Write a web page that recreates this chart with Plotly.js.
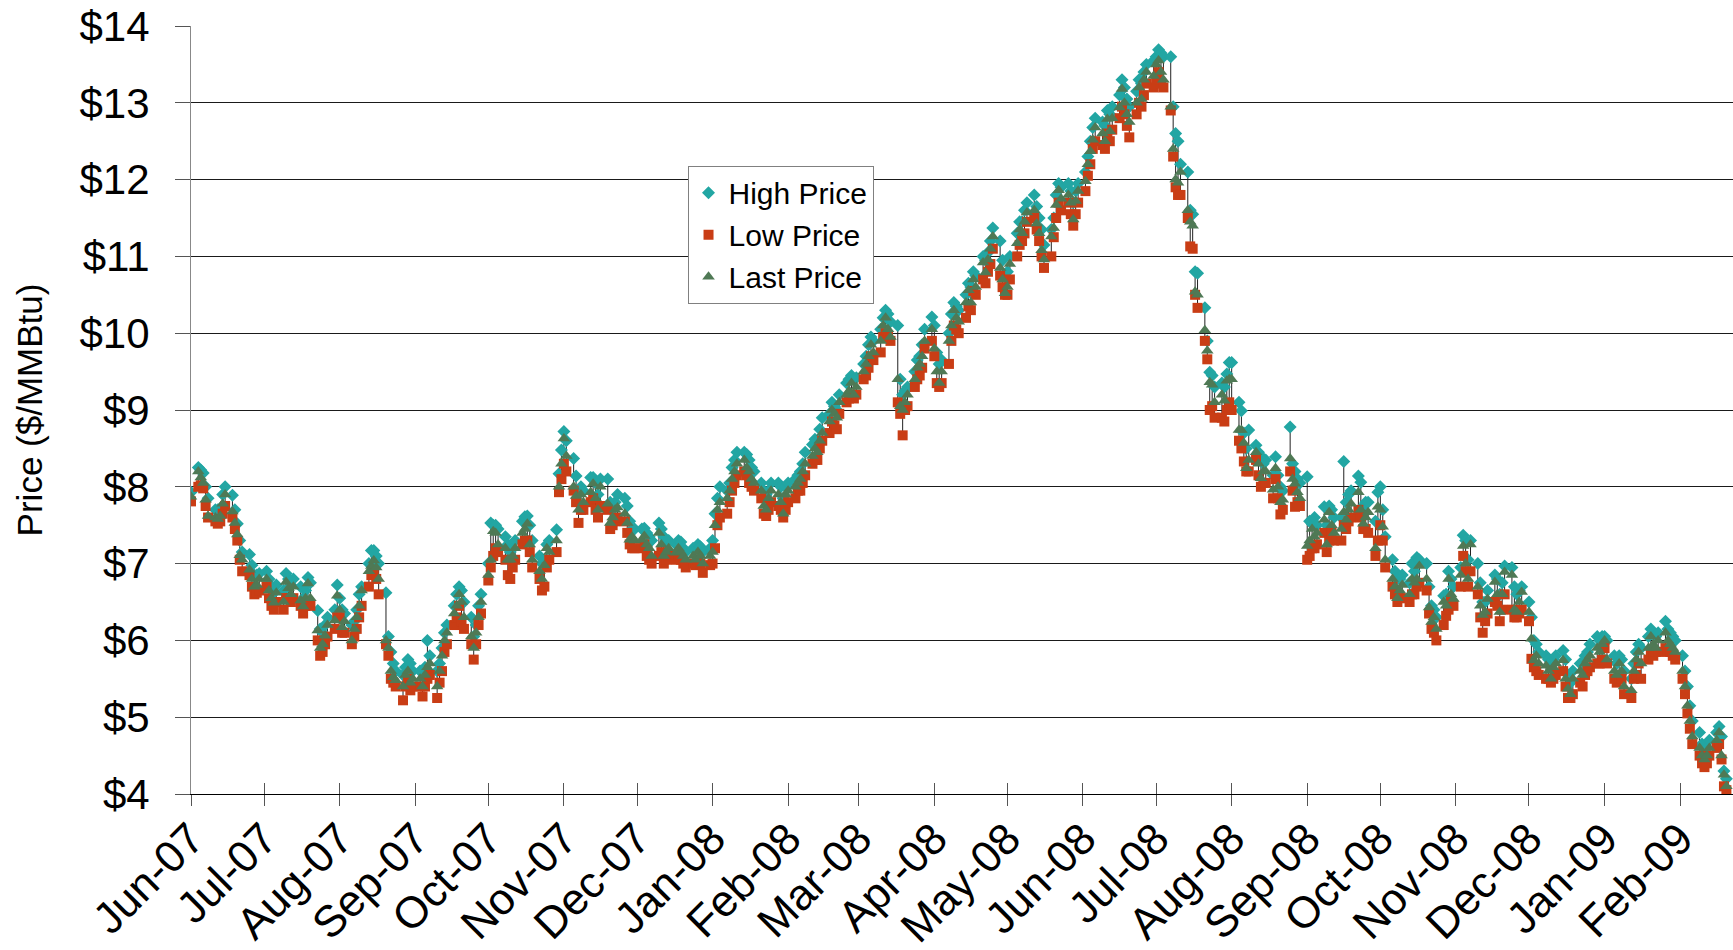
<!DOCTYPE html>
<html>
<head>
<meta charset="utf-8">
<script src="https://cdn.plot.ly/plotly-3.0.1.min.js"></script>
<style>
html,body{margin:0;padding:0;background:#fff;}
#chart{width:1733px;height:950px;}
</style>
</head>
<body>
<div id="chart"></div>
<script>
// Months covered (trading weekdays of each month get the values in order)
const months = ['2007-06','2007-07','2007-08','2007-09','2007-10','2007-11','2007-12',
  '2008-01','2008-02','2008-03','2008-04','2008-05','2008-06','2008-07','2008-08',
  '2008-09','2008-10','2008-11','2008-12','2009-01','2009-02'];

const lastPrice = [
 [7.87,8.20,8.12,8.05,7.83,7.62,7.60,7.58,7.62,7.78,7.90,7.68,7.53,7.38,7.11,7.05,6.92,6.80,6.70,6.72,6.80],
 [6.80,6.65,6.55,6.49,6.62,6.50,6.76,6.68,6.60,6.70,6.52,6.44,6.55,6.74,6.55,6.13,5.90,5.95,6.06,6.20,6.26,6.58],
 [6.40,6.17,6.25,6.00,6.15,6.30,6.45,6.65,6.90,6.97,7.04,6.95,6.80,6.00,5.90,5.60,5.52,5.48,5.40,5.55,5.60,5.45,5.50],
 [5.50,5.40,5.55,5.65,5.70,5.40,5.60,5.80,6.00,6.10,6.35,6.45,6.60,6.50,6.30,6.05,5.90,6.10,6.30,6.50],
 [6.85,7.05,7.42,7.40,7.25,7.20,7.05,7.05,7.10,7.20,7.40,7.45,7.52,7.25,7.05,6.90,6.80,6.98,7.20,7.15,7.30,8.00,8.30],
 [8.63,8.40,8.00,7.88,7.70,7.90,7.80,7.93,8.04,7.85,7.70,8.00,7.78,7.53,7.60,7.70,7.73,7.65,7.53,7.31,7.35,7.30],
 [7.31,7.36,7.25,7.20,7.10,7.40,7.25,7.10,7.15,7.20,7.14,7.20,7.15,7.10,7.05,7.10,7.05,7.15,7.10,7.00,7.10],
 [7.15,7.50,7.70,7.80,7.85,7.95,8.10,8.20,8.30,8.35,8.25,8.20,8.10,8.05,7.95,7.75,7.70,7.85,7.95,7.90,7.80,7.65,7.90],
 [7.95,8.00,8.05,8.10,8.20,8.30,8.40,8.50,8.45,8.60,8.70,8.85,9.00,8.95,8.90,9.10,9.20,9.25,9.35,9.20,9.30],
 [9.50,9.60,9.70,9.85,9.75,9.90,10.10,10.20,10.05,9.95,9.40,9.05,9.00,9.10,9.20,9.40,9.55,9.60,9.70,9.90,10.05],
 [9.80,9.50,9.35,9.50,9.90,10.10,10.30,10.20,10.15,10.40,10.56,10.40,10.70,10.60,10.92,10.79,10.96,11.10,11.26,10.85,10.70,10.52],
 [10.60,10.90,11.17,11.35,11.30,11.45,11.57,11.60,11.43,11.30,11.08,10.96,11.26,11.37,11.67,11.86,11.75,11.80,11.70,11.48,11.72,11.85],
 [11.98,12.20,12.37,12.52,12.68,12.60,12.50,12.79,12.63,12.80,12.94,13.18,13.00,12.85,12.75,13.00,13.20,13.05,13.30,13.40,13.35],
 [13.50,13.55,13.40,13.30,12.95,12.40,12.00,11.96,12.10,11.60,11.45,11.40,10.54,10.50,10.04,9.77,9.36,9.33,9.10,9.20,9.12,9.38,9.40],
 [9.40,8.74,8.74,8.57,8.24,8.35,8.45,8.30,8.11,8.20,8.20,7.96,8.24,8.00,7.80,7.83,8.37,8.10,8.04,7.93,7.85],
 [7.23,7.30,7.45,7.35,7.40,7.57,7.25,7.67,7.50,7.40,7.45,7.67,7.57,7.70,7.78,7.93,7.70,7.52,7.60,7.67,7.20,7.74],
 [7.70,7.48,7.05,6.80,6.70,6.55,6.65,6.72,6.60,6.80,6.75,6.80,6.97,6.80,6.43,6.24,6.30,6.15,6.50,6.45,6.80,6.60,6.54],
 [6.85,7.23,7.00,6.80,7.25,6.70,6.45,6.33,6.37,6.54,6.76,6.60,6.37,6.60,6.89,6.85,6.40,6.37,6.50,6.63],
 [6.37,6.02,5.74,5.80,5.70,5.67,5.60,5.50,5.65,5.70,5.74,5.50,5.37,5.30,5.50,5.60,5.55,5.70,5.75,5.80,5.90,5.85,5.95],
 [6.00,5.75,5.60,5.55,5.70,5.60,5.40,5.35,5.60,5.75,5.85,5.70,5.90,6.05,5.95,5.90,6.00,6.10,6.00,5.95,5.90,5.85],
 [5.60,5.40,5.15,4.95,4.75,4.60,4.50,4.45,4.50,4.60,4.70,4.80,4.50,4.25,4.10]
];

const highPrice = [
 [7.93,8.25,8.22,8.18,8.00,7.85,7.70,7.70,7.72,7.90,8.00,7.89,7.70,7.52,7.30,7.15,7.12,6.98,6.85,6.85,6.87],
 [6.90,6.80,6.70,6.62,6.72,6.65,6.87,6.80,6.72,6.80,6.70,6.55,6.65,6.82,6.75,6.39,6.15,6.10,6.20,6.30,6.40,6.72],
 [6.55,6.40,6.35,6.20,6.25,6.40,6.60,6.70,7.00,7.17,7.17,7.10,7.00,6.62,6.05,5.85,5.70,5.60,5.55,5.65,5.75,5.70,5.60],
 [5.60,5.60,5.65,6.00,5.80,5.60,5.70,5.90,6.10,6.20,6.45,6.60,6.70,6.65,6.50,6.30,6.05,6.20,6.45,6.60],
 [7.00,7.53,7.50,7.50,7.45,7.35,7.25,7.15,7.20,7.30,7.55,7.61,7.62,7.50,7.30,7.10,7.00,7.05,7.25,7.30,7.44,8.17,8.48],
 [8.72,8.60,8.37,8.14,7.95,8.00,7.95,8.12,8.12,8.05,7.90,8.10,8.10,7.80,7.70,7.80,7.90,7.85,7.75,7.55,7.45,7.45],
 [7.45,7.46,7.40,7.35,7.30,7.53,7.45,7.35,7.30,7.30,7.25,7.30,7.28,7.20,7.15,7.20,7.18,7.25,7.22,7.15,7.20],
 [7.30,7.65,7.85,8.00,7.95,8.05,8.25,8.35,8.45,8.45,8.42,8.35,8.25,8.20,8.05,7.95,7.90,7.95,8.05,8.05,8.00,7.85,8.00],
 [8.05,8.10,8.15,8.20,8.30,8.45,8.55,8.62,8.60,8.75,8.90,8.95,9.10,9.05,9.00,9.20,9.35,9.40,9.45,9.40,9.42],
 [9.60,9.70,9.85,9.95,9.90,10.05,10.20,10.30,10.25,10.15,10.10,9.40,9.20,9.25,9.30,9.50,9.65,9.70,9.85,10.05,10.21],
 [10.10,9.75,9.60,9.65,10.00,10.25,10.40,10.35,10.30,10.50,10.65,10.60,10.80,10.75,11.00,10.95,11.05,11.20,11.37,11.20,10.95,10.75],
 [10.80,11.00,11.30,11.45,11.45,11.60,11.70,11.80,11.65,11.50,11.35,11.15,11.35,11.50,11.80,11.95,11.90,11.95,11.85,11.70,11.85,11.95],
 [12.10,12.30,12.50,12.68,12.80,12.75,12.70,12.90,12.85,12.95,13.10,13.30,13.20,13.05,12.95,13.15,13.30,13.25,13.40,13.50,13.55],
 [13.60,13.69,13.65,13.60,13.60,12.95,12.60,12.50,12.20,12.10,11.60,11.55,10.80,10.78,10.33,9.90,9.49,9.45,9.30,9.35,9.30,9.47,9.62],
 [9.62,9.10,8.99,8.70,8.50,8.74,8.54,8.45,8.40,8.30,8.35,8.15,8.39,8.15,8.00,7.95,8.78,8.30,8.20,8.10,8.05],
 [8.13,7.55,7.52,7.60,7.50,7.74,7.50,7.75,7.70,7.60,7.60,8.33,7.80,7.90,7.95,8.14,8.06,7.75,7.80,7.80,7.55,7.93],
 [8.00,7.70,7.35,7.05,6.90,6.80,6.80,6.85,6.75,7.00,6.90,7.08,7.05,7.00,6.70,6.45,6.40,6.30,6.58,6.60,6.90,6.80,6.70],
 [6.95,7.37,7.30,7.05,7.30,7.00,6.75,6.50,6.50,6.65,6.85,6.80,6.60,6.75,6.97,6.95,6.70,6.60,6.65,6.70],
 [6.50,6.30,6.00,5.95,5.85,5.80,5.75,5.70,5.75,5.80,5.87,5.75,5.55,5.45,5.60,5.70,5.70,5.80,5.85,5.95,6.05,6.00,6.05],
 [6.05,6.00,5.80,5.70,5.80,5.75,5.60,5.50,5.70,5.85,5.95,5.90,6.05,6.15,6.10,6.05,6.10,6.25,6.15,6.10,6.05,6.00],
 [5.80,5.60,5.40,5.15,4.95,4.80,4.65,4.55,4.60,4.70,4.80,4.88,4.75,4.30,4.20]
];

const lowPrice = [
 [7.81,8.00,8.02,7.98,7.75,7.60,7.55,7.52,7.55,7.65,7.75,7.60,7.45,7.30,7.05,6.90,6.85,6.70,6.60,6.62,6.65],
 [6.70,6.55,6.45,6.40,6.50,6.40,6.55,6.55,6.50,6.55,6.45,6.35,6.45,6.50,6.45,6.00,5.80,5.85,5.95,6.05,6.15,6.30],
 [6.30,6.10,6.10,5.95,6.05,6.15,6.30,6.45,6.70,6.85,6.90,6.80,6.60,5.95,5.80,5.50,5.45,5.40,5.22,5.40,5.50,5.35,5.40],
 [5.40,5.27,5.40,5.50,5.55,5.25,5.45,5.60,5.85,5.95,6.20,6.30,6.45,6.25,6.15,5.95,5.75,5.95,6.20,6.35],
 [6.78,6.95,7.10,7.20,7.15,7.05,6.85,6.80,6.95,7.05,7.25,7.30,7.30,7.15,6.95,6.80,6.65,6.70,6.95,7.05,7.15,7.93,8.10],
 [8.30,8.20,7.95,7.80,7.53,7.70,7.70,7.80,7.85,7.70,7.60,7.75,7.70,7.45,7.50,7.55,7.60,7.55,7.40,7.25,7.20,7.20],
 [7.20,7.25,7.10,7.05,7.00,7.10,7.15,7.00,7.05,7.10,7.05,7.10,7.05,7.00,6.95,7.00,6.98,7.05,7.00,6.88,6.98],
 [7.00,7.20,7.50,7.60,7.65,7.80,7.95,8.05,8.15,8.20,8.15,8.05,8.00,7.95,7.85,7.65,7.62,7.70,7.80,7.75,7.70,7.60,7.70],
 [7.80,7.85,7.95,7.95,8.05,8.15,8.30,8.35,8.35,8.50,8.60,8.70,8.85,8.80,8.75,8.95,9.10,9.15,9.20,9.15,9.20],
 [9.40,9.45,9.55,9.70,9.65,9.75,9.95,10.00,9.95,9.90,9.10,8.95,8.67,9.00,9.05,9.30,9.40,9.45,9.55,9.80,9.90],
 [9.70,9.35,9.30,9.35,9.60,9.90,10.10,10.05,10.00,10.20,10.35,10.30,10.55,10.50,10.70,10.65,10.80,10.90,11.10,10.75,10.60,10.50],
 [10.50,10.70,11.00,11.15,11.20,11.30,11.45,11.50,11.35,11.20,11.00,10.85,11.00,11.25,11.50,11.70,11.60,11.70,11.55,11.40,11.55,11.70],
 [11.85,12.05,12.20,12.40,12.50,12.45,12.40,12.60,12.50,12.65,12.80,12.95,12.85,12.70,12.55,12.85,13.00,12.95,13.10,13.25,13.20],
 [13.30,13.40,13.25,13.20,12.90,12.30,11.90,11.80,11.80,11.50,11.13,11.10,10.50,10.33,9.90,9.66,9.00,9.05,8.90,8.90,8.85,9.00,9.10],
 [9.00,8.60,8.50,8.33,8.20,8.20,8.35,8.15,8.00,8.05,8.05,7.85,8.10,7.85,7.64,7.70,8.20,7.95,7.74,7.80,7.75],
 [7.05,7.10,7.20,7.20,7.25,7.40,7.15,7.30,7.40,7.30,7.30,7.50,7.45,7.55,7.60,7.70,7.60,7.45,7.45,7.40,7.10,7.30],
 [7.50,7.30,6.95,6.70,6.60,6.50,6.55,6.55,6.50,6.60,6.60,6.70,6.75,6.65,6.35,6.15,6.10,6.00,6.20,6.32,6.40,6.50,6.45],
 [6.70,7.10,6.90,6.70,6.90,6.60,6.30,6.10,6.25,6.35,6.50,6.45,6.25,6.40,6.60,6.40,6.30,6.30,6.35,6.40],
 [6.25,5.76,5.65,5.60,5.55,5.50,5.50,5.45,5.50,5.55,5.60,5.40,5.25,5.25,5.30,5.45,5.40,5.55,5.60,5.65,5.70,5.70,5.75],
 [5.90,5.70,5.50,5.45,5.50,5.50,5.30,5.25,5.50,5.55,5.70,5.50,5.75,5.85,5.80,5.85,5.85,5.90,5.85,5.85,5.80,5.75],
 [5.50,5.30,5.05,4.85,4.65,4.50,4.40,4.35,4.40,4.50,4.60,4.65,4.45,4.10,4.05]
];

const yTickValues = [4,5,6,7,8,9,10,11,12,13,14];
const yTickText = yTickValues.map(v => '$' + v);
const xRange = ['2007-06-01', '2009-02-22 17:00'];

// weekdays of a month (trading days)
function monthWeekdays(ym) {
  const [y, m] = ym.split('-').map(Number);
  const out = [];
  for (let d = 1; d <= 31; d++) {
    const dt = new Date(Date.UTC(y, m - 1, d));
    if (dt.getUTCMonth() !== m - 1) break;
    const wd = dt.getUTCDay();
    if (wd > 0 && wd < 6) out.push(dt.toISOString().slice(0, 10));
  }
  return out;
}

const X = [], H = [], L = [], C = [];
months.forEach((ym, i) => {
  const days = monthWeekdays(ym);
  const n = Math.min(days.length, lastPrice[i].length);
  for (let k = 0; k < n; k++) {
    X.push(days[k]); H.push(highPrice[i][k]); L.push(lowPrice[i][k]); C.push(lastPrice[i][k]);
  }
});

const hlX = [], hlY = [];
X.forEach((d, i) => { hlX.push(d, d, null); hlY.push(L[i], H[i], null); });

const FONT = 'Liberation Sans, Arial, Helvetica, sans-serif';

const traces = [
  {x: hlX, y: hlY, type: 'scatter', mode: 'lines', line: {color: '#222', width: 1},
   showlegend: false, hoverinfo: 'skip', connectgaps: false},
  {x: X, y: H, type: 'scatter', mode: 'markers', name: 'High Price',
   marker: {symbol: 'diamond', size: 10, color: '#22A6A3', line: {width: 0}}},
  {x: X, y: L, type: 'scatter', mode: 'markers', name: 'Low Price',
   marker: {symbol: 'square', size: 10, color: '#C93D15', line: {width: 0}}},
  {x: X, y: C, type: 'scatter', mode: 'markers', name: 'Last Price',
   marker: {symbol: 'triangle-up', size: 11, color: '#4F7955', line: {width: 0}}},
  {x: [xRange[0]], y: [null], xaxis: 'x2', type: 'scatter', mode: 'markers',
   showlegend: false, hoverinfo: 'skip'}
];

const layout = {
  width: 1733, height: 950,
  margin: {l: 191, r: 0, t: 26, b: 156, pad: 0},
  paper_bgcolor: '#ffffff', plot_bgcolor: '#ffffff',
  font: {family: FONT, color: '#000'},
  showlegend: true,
  legend: {x: 0.322, y: 0.818, xanchor: 'left', yanchor: 'top', bgcolor: '#ffffff',
    bordercolor: '#808080', borderwidth: 1, font: {size: 30, family: FONT, color: '#000'},
    tracegroupgap: 0, itemsizing: 'trace'},
  // main axis: labels close to the axis, tick marks inside
  xaxis: {type: 'date', range: xRange, tick0: '2007-06-01', dtick: 'M1', tickformat: '%b-%y',
    tickangle: -45, ticks: 'inside', ticklen: 11, tickcolor: '#555', tickwidth: 1,
    showgrid: false, zeroline: false, showline: true, linecolor: '#000', linewidth: 1,
    tickfont: {size: 44, family: FONT, color: '#000'}, automargin: false},
  // overlay axis: the outside half of the crossing tick marks
  xaxis2: {type: 'date', range: xRange, overlaying: 'x', tick0: '2007-06-01', dtick: 'M1',
    ticks: 'outside', ticklen: 11, tickcolor: '#555', tickwidth: 1, showticklabels: false,
    showgrid: false, zeroline: false, showline: false, side: 'bottom', anchor: 'y'},
  yaxis: {range: [4, 14], tickvals: yTickValues, ticktext: yTickText, showgrid: true,
    gridcolor: '#1a1a1a', gridwidth: 1, ticks: 'outside', ticklen: 15, tickcolor: '#555',
    showline: true, linecolor: '#888', linewidth: 1, zeroline: false,
    tickfont: {size: 42, family: FONT, color: '#000'}, ticklabelstandoff: 17, automargin: false,
    title: {text: 'Price ($/MMBtu)', font: {size: 35, family: FONT, color: '#000'}, standoff: 26}}
};

Plotly.newPlot('chart', traces, layout, {displayModeBar: false, staticPlot: true});
</script>
</body>
</html>
